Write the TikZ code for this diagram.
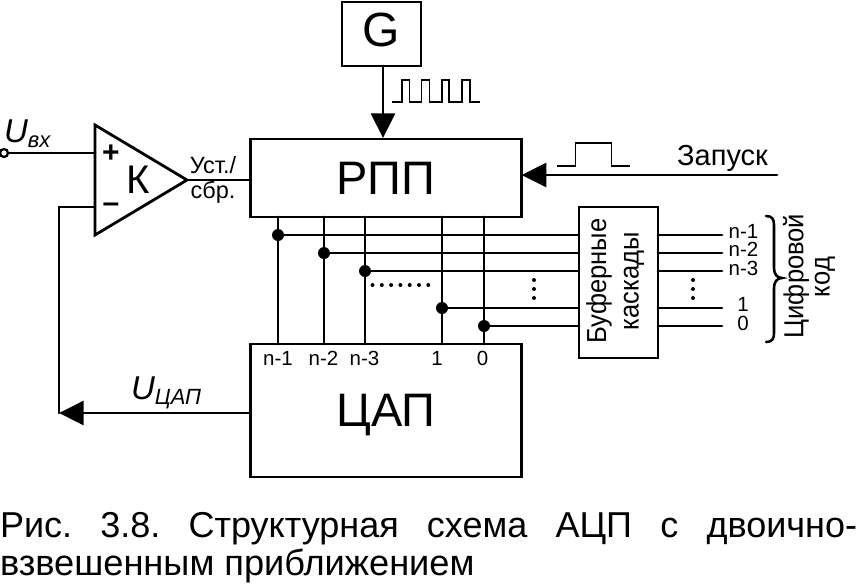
\documentclass[tikz,border=0pt]{standalone}
\usepackage{fontspec}
\setmainfont{Liberation Sans}
\usetikzlibrary{arrows.meta}
\newcommand{\pxfont}[1]{\fontsize{\dimexpr#1pt*3/4\relax}{\dimexpr#1pt*9/10\relax}\selectfont}
\tikzset{
  x=0.75pt,y=-0.75pt,
  wire/.style={line width=2.1pt,line cap=round,line join=miter},
  thin wire/.style={line width=0.9pt,line join=miter},
  blockbox/.style={draw,line width=2.1pt,inner sep=0pt,outer sep=0pt},
  big/.style={font=\pxfont{47}},
  mid/.style={font=\pxfont{27.5},xscale=0.93},
  small/.style={font=\pxfont{20.5}},
  junction/.style={circle,fill=black,draw=none,minimum size=9pt,inner sep=0pt,outer sep=0pt},
  minidot/.style={circle,fill=black,draw=none,minimum size=3pt,inner sep=0pt},
  head/.style={-{Triangle[length=18.5pt,width=18pt]}},
  label/.style={inner sep=0pt,outer sep=0pt},
}
\begin{document}
\begin{tikzpicture}
\useasboundingbox (0,0) rectangle (857,583);
% blocks
\node[blockbox,minimum width=59.25pt,minimum height=48pt] (G) at (381.5,34) {};
\node[label,font=\pxfont{48}] (Gt) at (381,30) {G};
\node[blockbox,minimum width=203.5pt,minimum height=58.5pt,big] (RPP) at (386,178) {РПП};
\node[blockbox,minimum width=203.5pt,minimum height=99.75pt] (DAC) at (386,410.5) {};
\node[label,big] (DACt) at (386,415) {ЦАП};
\node[blockbox,minimum width=59.25pt,minimum height=113.25pt] (BUF) at (618.5,282.5) {};
\node[label,rotate=90,mid] (BUFa) at (599,281) {Буферные};
\node[label,rotate=90,mid] (BUFb) at (634,281) {каскады};
% comparator
\coordinate (Kt) at (95,125); \coordinate (Kb) at (95,235); \coordinate (Kr) at (187,180);
\draw[wire] (Kt) -- (Kr) -- (Kb) -- cycle;
\node[label,font=\pxfont{40}] (K) at (138,180) {К};
\node[label,font=\pxfont{30}\bfseries] (plus) at (111,154) {+};
\node[label,font=\pxfont{30}\bfseries] (minus) at (111,208) {–};
\node[label,font=\pxfont{23.5}] (ust) at (213,165) {Уст./};
\node[label,font=\pxfont{23.5}] (sbr) at (213,192) {сбр.};
% input
\node[circle,draw,line width=1.7pt,minimum size=6pt,inner sep=0pt,outer sep=0pt,fill=white] (in) at (4,153) {};
\coordinate (Kp) at (95,153); \coordinate (Km) at (95,207);
\coordinate (fbtop) at (59,207); \coordinate (fbbot) at (59,413);
\draw[wire] (in) -- (Kp);
\draw[wire] (Kr) -- (RPP.west |- Kr);
\draw[wire] (Km) -- (fbtop) -- (fbbot);
\node[label,anchor=base west,font=\pxfont{33}\itshape] (uin) at (4,142) {U\raisebox{-0.17em}{\pxfont{22}вх}};
\node[label,anchor=base west,font=\pxfont{33}\itshape] (udac) at (131,399) {U\raisebox{-0.17em}{\pxfont{22}ЦАП}};
\draw[wire,head] (DAC.west |- fbbot) -- (fbbot);
% clock
\draw[wire,head] (G.south -| 383,0) -- (383,138);
\draw[thin wire] (392,102) -- (402,102) -- (402,80) -- (409.5,80) -- (409.5,102) -- (421.5,102) -- (421.5,80) -- (429.5,80) -- (429.5,102) -- (442,102) -- (442,80) -- (449,80) -- (449,102) -- (462,102) -- (462,80) -- (470,80) -- (470,102) -- (480,102);
% start
\coordinate (st) at (777,175);
\draw[wire,head] (st) -- (RPP.east |- st);
\draw[thin wire] (557,166) -- (575.5,166) -- (575.5,143) -- (611.5,143) -- (611.5,166) -- (630,166);
\node[label,font=\pxfont{29}] (start) at (722.5,158) {Запуск};
% bus
\foreach \n/\x/\y/\t/\tx in {a/278/235/n-1/278,b/324/253/n-2/323.5,c/365/271/n-3/364.5,d/442/308/1/437,e/484/326/0/482.5}{
  \node[junction] (j\n) at (\x,\y) {};
  \draw[wire] (RPP.south -| j\n) -- (DAC.north -| j\n);
  \draw[wire] (j\n) -- (BUF.west |- j\n);
  \coordinate (o\n) at (722,\y);
  \draw[wire] (BUF.east |- j\n) -- (o\n);
  \node[label,small] (dl\n) at (\tx,358) {\t};
}
\node[label,small] (ola) at (743.5,231) {n-1};
\node[label,small] (olb) at (743.5,249.5) {n-2};
\node[label,small] (olc) at (743.5,268) {n-3};
\node[label,small] (old) at (743,304) {1};
\node[label,small] (ole) at (743,323) {0};
% dots
\foreach \i in {0,...,6}{\node[minidot] (hd\i) at ({372.5+\i*9.3},285) {};}
\foreach \i in {0,1,2}{
  \node[minidot] (va\i) at (534,{280+\i*9}) {};
  \node[minidot] (vb\i) at (693,{280+\i*9}) {};
}
% brace
\draw[line width=1.9pt,line cap=round] (766,216) .. controls (772,216) and (774,219) .. (774,225) -- (774,268) .. controls (774,274) and (777,278) .. (782,278) .. controls (777,278) and (774,282) .. (774,288) -- (774,333) .. controls (774,339) and (772,342) .. (766,342);
\node[label,rotate=90,mid] (ca) at (796,276) {Цифровой};
\node[label,rotate=90,mid] (cb) at (825,277) {код};
% caption
\node[label,anchor=base west,font=\pxfont{36}] (cap1) at (0,537) {\hbox to 642.75pt{Рис.\hfill 3.8.\hfill Структурная\hfill схема\hfill АЦП\hfill с\hfill двоично-}};
\node[label,anchor=base west,font=\pxfont{36.2}] (cap2) at (0,575) {взвешенным приближением};
\end{tikzpicture}
\end{document}
